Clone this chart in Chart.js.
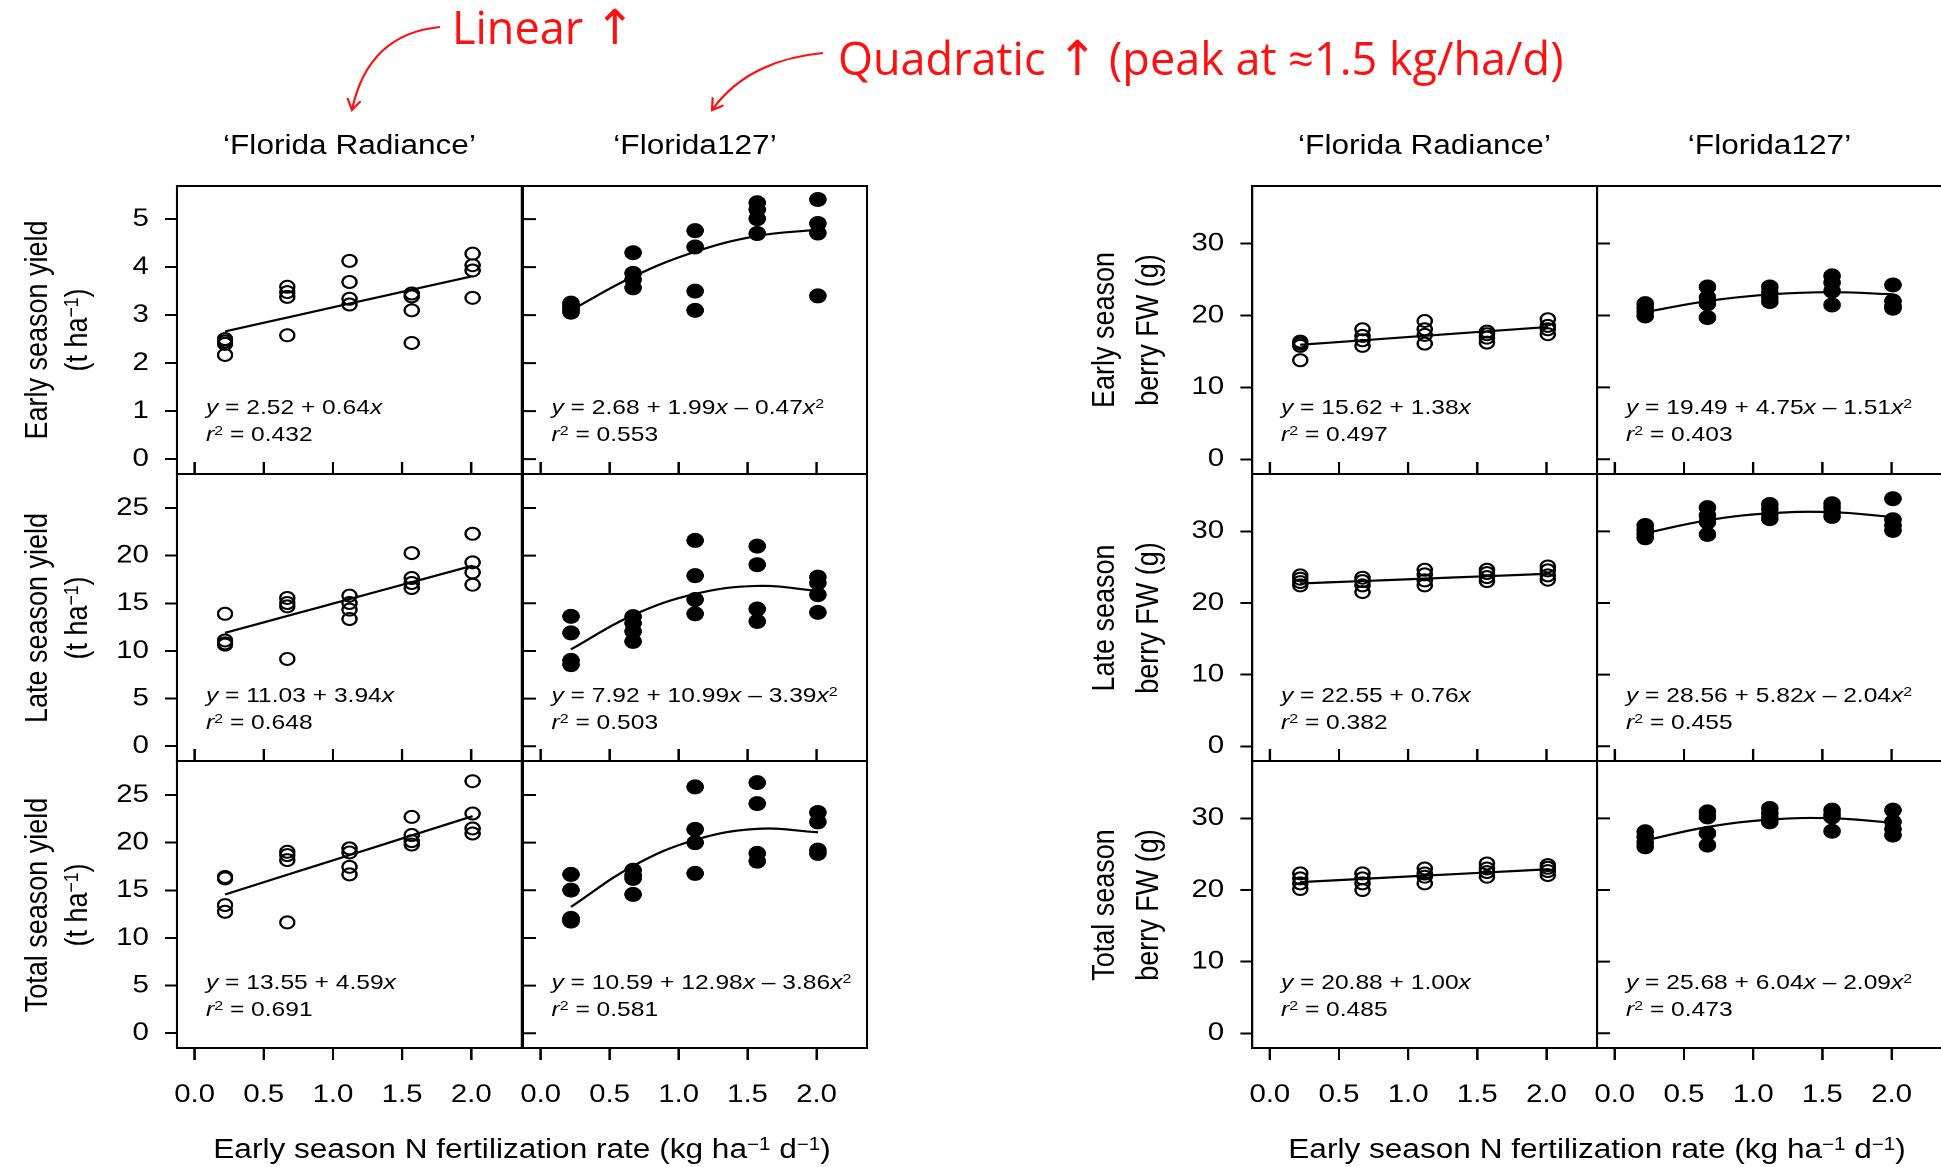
<!DOCTYPE html>
<html>
<head>
<meta charset="utf-8">
<script src="https://cdn.jsdelivr.net/npm/chart.js@4.4.1/dist/chart.umd.min.js"></script>
<style>
html,body{margin:0;padding:0;background:#fff;}
body{width:1941px;height:1167px;overflow:hidden;position:relative;font-family:"Liberation Sans",Arial,sans-serif;color:#000;}
#fig{position:absolute;left:0;top:0;width:1660px;height:1167px;transform:scaleX(1.17);transform-origin:0 0;}
.t{position:absolute;white-space:nowrap;transform:translate(-50%,-50%);}
.rot{transform:translate(-50%,-50%) rotate(-90deg);}
.eq{position:absolute;white-space:nowrap;font-size:21px;line-height:26.7px;}
sup{font-size:65%;line-height:0;vertical-align:0.45em;}
.note{position:absolute;white-space:nowrap;font-family:"Open Sans",sans-serif;font-size:45px;line-height:52px;color:#ff1010;}
.note .ar{font-family:"DejaVu Sans",sans-serif;font-size:48px;line-height:0;}
.panel{position:absolute;}
</style>
</head>
<body>
<div id="fig"></div>
<div class="note" style="left:452px;top:1px">Linear <span class="ar">↑</span></div>
<div class="note" style="left:838px;top:32px">Quadratic <span class="ar">↑</span> (peak at ≈1.5 kg/ha/d)</div>
<svg width="1941" height="1167" style="position:absolute;left:0;top:0">
  <defs>
    <marker id="ah" markerWidth="16" markerHeight="16" refX="11" refY="7" orient="auto" markerUnits="userSpaceOnUse">
      <path d="M0,0 L11,7 L0,14" fill="none" stroke="#ff1010" stroke-width="2.2"/>
    </marker>
  </defs>
  <path d="M440,27 Q368,34 352,110" fill="none" stroke="#ff1010" stroke-width="2.2" marker-end="url(#ah)"/>
  <path d="M823,53 Q748,60 712,110" fill="none" stroke="#ff1010" stroke-width="2.2" marker-end="url(#ah)"/>
</svg>
<script>
/* DATA */
const rates=[0.22,0.67,1.12,1.57,2.01];
const xTicks=[0,0.5,1,1.5,2];
const yTicksEarly=[0,1,2,3,4,5];
const yTicksYield=[0,5,10,15,20,25];
const yTicksFw=[0,10,20,30];

// four plots per rate, 'Florida Radiance' (open) / 'Florida127' (filled)
const earlyYieldRad=[[2.50,2.45,2.40,2.17],[3.59,3.48,3.38,2.58],[4.13,3.69,3.34,3.22],[3.45,3.39,3.10,2.42],[4.28,4.04,3.93,3.36]];
const earlyYield127=[[3.25,3.18,3.12,3.06],[4.30,3.87,3.74,3.57],[4.76,4.42,3.50,3.10],[5.34,5.20,5.01,4.70],[5.41,4.91,4.71,3.40]];
const lateYieldRad=[[13.9,11.1,10.8,10.66],[15.56,15.03,14.68,9.16],[15.8,15.03,14.33,13.35],[20.27,17.65,17.13,16.6],[22.3,19.3,18.24,16.95]];
const lateYield127=[[13.63,11.89,9.01,8.56],[13.6,12.9,12.05,11.0],[21.6,17.9,15.4,13.9],[21.0,19.05,14.4,13.1],[17.75,17.13,15.9,14.05]];
const totalYieldRad=[[16.4,16.25,13.45,12.75],[19.04,18.69,18.17,11.63],[19.4,18.97,17.46,16.67],[22.7,20.8,20.16,19.8],[26.45,23.06,21.49,20.96]];
const totalYield127=[[16.67,15.02,12.05,11.77],[17.1,16.6,16.25,14.57],[25.85,21.4,20.0,16.77],[26.3,24.1,18.87,18.06],[23.17,22.18,19.21,18.87]];
const earlyFwRad=[[16.36,16.08,15.76,13.77],[18.08,17.15,16.55,15.76],[19.23,18.08,17.29,16.08],[17.75,17.39,16.91,16.22],[19.47,18.54,18.08,17.39]];
const earlyFw127=[[21.64,21.09,20.53,19.93],[23.96,22.48,21.64,19.7],[23.96,23.17,22.48,21.92],[25.5,24.56,23.4,21.46],[24.24,22.0,21.3,21.0]];
const lateFwRad=[[23.85,23.39,22.92,22.45],[23.53,23.05,22.45,21.52],[24.64,23.99,23.15,22.45],[24.64,24.17,23.61,23.05],[25.1,24.55,23.85,23.25]];
const lateFw127=[[30.82,30.22,29.66,29.1],[33.3,32.2,31.3,29.57],[33.75,33.15,32.36,31.76],[33.85,33.3,32.68,32.08],[34.55,31.62,30.82,30.13]];
const totalFwRad=[[22.31,21.62,20.92,20.13],[22.31,21.62,20.92,19.99],[23.0,22.3,21.85,20.92],[23.7,23.0,22.5,21.85],[23.47,23.1,22.64,22.08]];
const totalFw127=[[28.12,27.42,26.64,26.03],[30.9,30.2,27.9,26.26],[31.38,30.68,30.07,29.51],[31.14,30.54,30.2,28.2],[31.14,29.51,28.49,27.66]];

// fitted regression values at each rate
const earlyYieldRadFit=[2.66,2.95,3.24,3.53,3.81];
const earlyYield127Fit=[3.10,3.80,4.32,4.65,4.78];
const lateYieldRadFit=[11.90,13.67,15.44,17.22,18.95];
const lateYield127Fit=[10.17,13.76,15.98,16.82,16.31];
const totalYieldRadFit=[14.56,16.63,18.69,20.76,22.78];
const totalYield127Fit=[13.26,17.55,20.29,21.45,21.09];
const earlyFwRadFit=[15.92,16.54,17.17,17.79,18.39];
const earlyFw127Fit=[20.46,22.00,22.92,23.23,22.94];
const lateFwRadFit=[22.72,23.06,23.40,23.74,24.08];
const lateFw127Fit=[29.74,31.54,32.52,32.67,32.00];
const totalFwRadFit=[21.10,21.55,22.00,22.45,22.89];
const totalFw127Fit=[26.91,28.79,29.82,30.01,29.38];

const colTitles=["‘Florida Radiance’","‘Florida127’","‘Florida Radiance’","‘Florida127’"];
const yTitlesLeft=["Early season yield","Late season yield","Total season yield"];
const yTitlesRight=["Early season","Late season","Total season"];

/* LAYOUT */
const S=1.17;
const colLeft=[177,522.5,1252,1597];
const PW=345;
const rowTop=[186,474,761];
const rowH=[288,287,287];
const PAD=4, WY=80, HX=80;
const FONT='"Liberation Sans", Arial, sans-serif';
const fig=document.getElementById("fig");

function addText(html,x,y,size,cls){
  const d=document.createElement("div");
  d.className="t"+(cls?" "+cls:"");
  d.style.left=x+"px";d.style.top=y+"px";d.style.fontSize=size+"px";
  d.innerHTML=html;
  fig.appendChild(d);
}

const panels=[
  {c:0,r:0,v:earlyYieldRad,f:earlyYieldRadFit,fill:false,eq:"<i>y</i> = 2.52 + 0.64<i>x</i>",r2:"0.432"},
  {c:1,r:0,v:earlyYield127,f:earlyYield127Fit,fill:true,eq:"<i>y</i> = 2.68 + 1.99<i>x</i> – 0.47<i>x</i><sup>2</sup>",r2:"0.553"},
  {c:0,r:1,v:lateYieldRad,f:lateYieldRadFit,fill:false,eq:"<i>y</i> = 11.03 + 3.94<i>x</i>",r2:"0.648"},
  {c:1,r:1,v:lateYield127,f:lateYield127Fit,fill:true,eq:"<i>y</i> = 7.92 + 10.99<i>x</i> – 3.39<i>x</i><sup>2</sup>",r2:"0.503"},
  {c:0,r:2,v:totalYieldRad,f:totalYieldRadFit,fill:false,eq:"<i>y</i> = 13.55 + 4.59<i>x</i>",r2:"0.691"},
  {c:1,r:2,v:totalYield127,f:totalYield127Fit,fill:true,eq:"<i>y</i> = 10.59 + 12.98<i>x</i> – 3.86<i>x</i><sup>2</sup>",r2:"0.581"},
  {c:2,r:0,v:earlyFwRad,f:earlyFwRadFit,fill:false,eq:"<i>y</i> = 15.62 + 1.38<i>x</i>",r2:"0.497"},
  {c:3,r:0,v:earlyFw127,f:earlyFw127Fit,fill:true,eq:"<i>y</i> = 19.49 + 4.75<i>x</i> – 1.51<i>x</i><sup>2</sup>",r2:"0.403"},
  {c:2,r:1,v:lateFwRad,f:lateFwRadFit,fill:false,eq:"<i>y</i> = 22.55 + 0.76<i>x</i>",r2:"0.382"},
  {c:3,r:1,v:lateFw127,f:lateFw127Fit,fill:true,eq:"<i>y</i> = 28.56 + 5.82<i>x</i> – 2.04<i>x</i><sup>2</sup>",r2:"0.455"},
  {c:2,r:2,v:totalFwRad,f:totalFwRadFit,fill:false,eq:"<i>y</i> = 20.88 + 1.00<i>x</i>",r2:"0.485"},
  {c:3,r:2,v:totalFw127,f:totalFw127Fit,fill:true,eq:"<i>y</i> = 25.68 + 6.04<i>x</i> – 2.09<i>x</i><sup>2</sup>",r2:"0.473"}
];

/* BOX + INWARD TICKS */
const boxPlugin={
  id:"box",
  afterDraw(chart){
    const {ctx,chartArea:a,scales}=chart;
    const o=chart.options.plugins.box;
    ctx.save();
    ctx.strokeStyle="#000";ctx.lineWidth=2;
    ctx.strokeRect(a.left,a.top,a.right-a.left,a.bottom-a.top);
    ctx.beginPath();
    if(!o.left){
      o.yTicks.forEach(v=>{const y=scales.y.getPixelForValue(v);ctx.moveTo(a.left,y);ctx.lineTo(a.left+11,y);});
    }
    if(!o.bottom){
      xTicks.forEach(v=>{const x=scales.x.getPixelForValue(v);ctx.moveTo(x,a.bottom);ctx.lineTo(x,a.bottom-12);});
    }
    ctx.stroke();
    ctx.restore();
  }
};

function makePanel(p){
  const isLeft=p.c===0||p.c===2;
  const isBottom=p.r===2;
  const fw=p.c>1;
  const yTicks=fw?yTicksFw:(p.r===0?yTicksEarly:yTicksYield);
  const yMin=fw?-2.05:(p.r===0?-0.31:-1.55);
  const yMax=fw?38.0:(p.r===0?5.69:28.57);
  const pl=colLeft[p.c]/S, pt=rowTop[p.r], pw=PW/S, ph=rowH[p.r];
  const padL=isLeft?WY:PAD, padB=isBottom?HX:PAD;
  const cw=padL+pw+PAD, chh=PAD+ph+padB;

  const wrap=document.createElement("div");
  wrap.className="panel";
  wrap.style.left=(pl-padL)+"px";wrap.style.top=(pt-PAD)+"px";
  wrap.style.width=cw+"px";wrap.style.height=chh+"px";
  const cv=document.createElement("canvas");
  cv.width=cw;cv.height=chh;
  cv.style.width=cw+"px";cv.style.height=chh+"px";
  wrap.appendChild(cv);
  fig.appendChild(wrap);

  const pts=rates.flatMap((x,i)=>p.v[i].map(y=>({x,y})));
  const fitPts=rates.map((x,i)=>({x,y:p.f[i]}));

  new Chart(cv,{
    type:"scatter",
    data:{datasets:[
      {data:pts,pointRadius:p.fill?7:6,pointBorderWidth:p.fill?1:2,
       pointBackgroundColor:p.fill?"#000":"rgba(0,0,0,0)",pointBorderColor:"#000",showLine:false},
      {type:"line",data:fitPts,pointRadius:0,borderColor:"#000",borderWidth:2.2,tension:0.4,fill:false}
    ]},
    options:{
      responsive:false,animation:false,devicePixelRatio:2,
      layout:{autoPadding:false,padding:{left:isLeft?0:PAD,right:PAD,top:PAD,bottom:isBottom?0:PAD}},
      plugins:{legend:{display:false},tooltip:{enabled:false},box:{left:isLeft,bottom:isBottom,yTicks}},
      scales:{
        x:{type:"linear",min:-0.128,max:2.366,display:isBottom,
          afterBuildTicks:s=>{s.ticks=xTicks.map(v=>({value:v}));},
          afterFit:s=>{if(isBottom){s.height=HX;s.paddingLeft=0;s.paddingRight=0;}},
          grid:{drawOnChartArea:false,drawTicks:true,tickLength:12,color:"#000",lineWidth:2},
          border:{display:false},
          ticks:{color:"#000",font:{family:FONT,size:25},padding:20,maxRotation:0,autoSkip:false,
            callback:v=>Number(v).toFixed(1)}},
        y:{type:"linear",min:yMin,max:yMax,display:isLeft,
          afterBuildTicks:s=>{s.ticks=yTicks.map(v=>({value:v}));},
          afterFit:s=>{if(isLeft){s.width=WY;s.paddingTop=0;s.paddingBottom=0;}},
          grid:{drawOnChartArea:false,drawTicks:true,tickLength:10,color:"#000",lineWidth:2},
          border:{display:false},
          ticks:{color:"#000",font:{family:FONT,size:25},padding:14,autoSkip:false,
            callback:v=>String(v)}}
      }
    },
    plugins:[boxPlugin]
  });

  const e=document.createElement("div");
  e.className="eq";
  e.style.left=(pl+29/S)+"px";
  e.style.top=(pt+208)+"px";
  e.innerHTML=p.eq+"<br><i>r</i><sup>2</sup> = "+p.r2;
  fig.appendChild(e);
}

panels.forEach(makePanel);

/* TITLES */
colTitles.forEach((t,i)=>addText(t,(colLeft[i]+PW/2)/S,145,27));
const rowMid=rowTop.map((t,i)=>t+rowH[i]/2);
rowMid.forEach((y,i)=>{
  addText(yTitlesLeft[i],37/S,y,27,"rot");
  addText("(t ha<sup>−1</sup>)",77/S,y,27,"rot");
  addText(yTitlesRight[i],1105/S,y,27,"rot");
  addText("berry FW (g)",1148/S,y,27,"rot");
});
const xTitle="Early season N fertilization rate (kg ha<sup>−1</sup> d<sup>−1</sup>)";
addText(xTitle,522/S,1149,27);
addText(xTitle,1597/S,1149,27);
</script>
</body>
</html>
